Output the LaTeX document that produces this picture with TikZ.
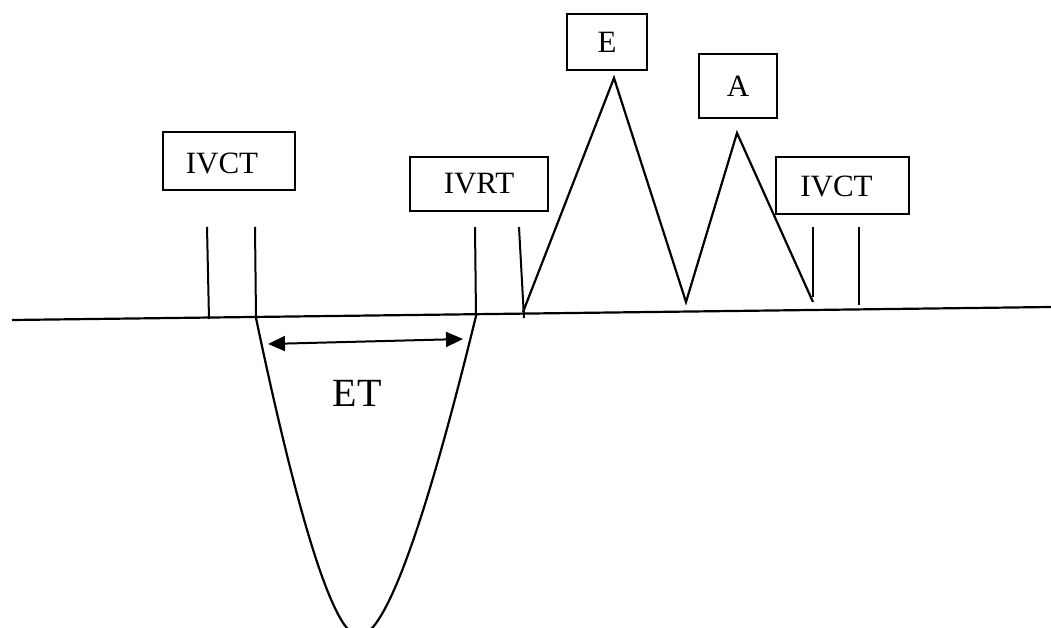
\documentclass[tikz,border=0pt]{standalone}
\usepackage{fontspec}
\setmainfont{Liberation Serif}
\usetikzlibrary{arrows.meta}
\tikzset{
  lbl/.style={draw, line width=2pt, rectangle, inner sep=0pt, font=\fontsize{31}{36}\selectfont},
  txt/.style={inner sep=0pt, font=\fontsize{31}{36}\selectfont},
  trace/.style={line width=2.2pt, line join=miter},
  tick/.style={line width=2pt},
  span/.style={line width=2pt, >={Triangle[length=17pt,width=15pt]}, <->},
}
\begin{document}
\begin{tikzpicture}[x=1pt, y=-1pt]
\useasboundingbox (0,0) rectangle (1051,628);
\begin{scope}
\clip (0,0) rectangle (1051,628);

% labels
\node[lbl, minimum width=132pt, minimum height=58pt] (ivct1) at (229,161) {};
\node[txt] at ([xshift=-7pt,yshift=-2pt]ivct1.center) {IVCT};
\node[lbl, minimum width=138pt, minimum height=54pt] (ivrt) at (479,184) {IVRT};
\node[lbl, minimum width=80pt, minimum height=56pt] (e) at (607,42) {E};
\node[lbl, minimum width=78pt, minimum height=64pt] (a) at (738,86) {A};
\node[lbl, minimum width=133pt, minimum height=57pt] (ivct2) at (842.5,185.5) {};
\node[txt] at ([xshift=-6pt,yshift=-1pt]ivct2.center) {IVCT};
\node[font=\fontsize{40}{46}\selectfont] (et) at (357,393) {ET};

% baseline
\coordinate (b0) at (12,320);
\coordinate (b1) at (1051,307);
\draw[trace] (b0) -- (b1);

% interval markers
\draw[tick] (207,227) -- (209,319);
\draw[tick] (255,227) -- (256,318);
\draw[tick] (475,227) -- (476,316);
\draw[tick] (519,227) -- (524,318);
\draw[tick] (813,227) -- (813,297);
\draw[tick] (859,227) -- (859,305);

% ejection wave below the baseline
\coordinate (s0) at (256,318);
\coordinate (s1) at (359,636);
\coordinate (s2) at (476,316);
\draw[trace] (s0) .. controls (290,480) and (330,636) .. (s1)
              .. controls (390,636) and (436,480) .. (s2);

% E and A waves
\coordinate (w0) at (523,312);
\coordinate (ep) at (614,78);
\coordinate (w1) at (686,302);
\coordinate (ap) at (737,133);
\coordinate (w2) at (813,302);
\draw[trace] (w0) -- (ep) -- (w1) -- (ap) -- (w2);

% ejection time span
\coordinate (et0) at (268,344);
\coordinate (et1) at (463,339);
\draw[span] (et0) -- (et1);
\end{scope}
\end{tikzpicture}
\end{document}
